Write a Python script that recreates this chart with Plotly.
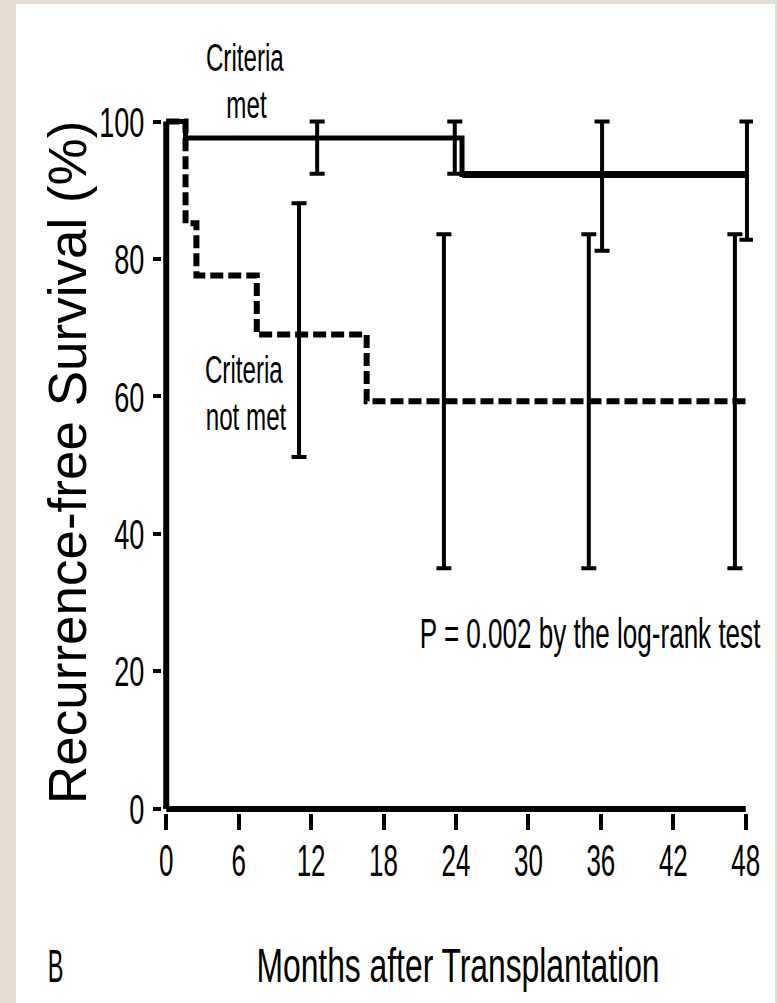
import plotly.graph_objects as go

# ---------------- data ----------------
met_x = [0, 1.6, 24.5, 48]
met_y = [100, 97.6, 92.3, 92.3]

notmet_x = [0, 1.6, 2.5, 7.5, 16.6, 48]
notmet_y = [100, 85.2, 77.6, 69.0, 59.3, 59.3]

met_err_x = [12.5, 23.9, 36.1, 48.1]
met_err_center = [97.6, 97.6, 92.3, 92.3]
met_err_upper = [100, 100, 100, 100]
met_err_lower = [92.4, 92.4, 81.2, 82.8]

notmet_err_x = [11.0, 23.0, 35.0, 47.1]
notmet_err_center = [69.0, 59.3, 59.3, 59.3]
notmet_err_upper = [88.1, 83.6, 83.6, 83.6]
notmet_err_lower = [51.2, 35.0, 35.0, 35.0]

x_ticks = [0, 6, 12, 18, 24, 30, 36, 42, 48]
y_ticks = [0, 20, 40, 60, 80, 100]

# ---------------- layout geometry ----------------
W, H = 777, 1003
ML, MR, MT, MB = 162, 24, 116, 190
PW, PH = W - ML - MR, H - MT - MB

def px(x):
    return (x - ML) / PW

def py(y):
    return (H - MB - y) / PH

FONT = "Liberation Sans, Arial, sans-serif"

fig = go.Figure()

fig.add_trace(go.Scatter(
    x=notmet_x, y=notmet_y, mode="lines", line_shape="hv",
    line=dict(color="black", width=6, dash="13px,5px"),
    showlegend=False, hoverinfo="skip"))

fig.add_trace(go.Scatter(
    x=met_x, y=met_y, mode="lines", line_shape="hv",
    line=dict(color="black", width=5),
    showlegend=False, hoverinfo="skip"))

# last plateau of the "criteria met" curve is printed heavier in the original
fig.add_trace(go.Scatter(
    x=met_x[2:], y=met_y[2:], mode="lines", line_shape="hv",
    line=dict(color="black", width=7),
    showlegend=False, hoverinfo="skip"))

fig.add_trace(go.Scatter(
    x=met_err_x, y=met_err_center, mode="markers",
    marker=dict(size=1, color="rgba(0,0,0,0)"),
    error_y=dict(type="data", symmetric=False,
                 array=[u - c for u, c in zip(met_err_upper, met_err_center)],
                 arrayminus=[c - l for l, c in zip(met_err_lower, met_err_center)],
                 color="black", thickness=4, width=7.5),
    cliponaxis=False, showlegend=False, hoverinfo="skip"))

fig.add_trace(go.Scatter(
    x=notmet_err_x, y=notmet_err_center, mode="markers",
    marker=dict(size=1, color="rgba(0,0,0,0)"),
    error_y=dict(type="data", symmetric=False,
                 array=[u - c for u, c in zip(notmet_err_upper, notmet_err_center)],
                 arrayminus=[c - l for l, c in zip(notmet_err_lower, notmet_err_center)],
                 color="black", thickness=4, width=7.5),
    cliponaxis=False, showlegend=False, hoverinfo="skip"))

shapes = [
    dict(type="rect", xref="paper", yref="paper", x0=px(16), x1=px(775), y0=py(1003), y1=py(4),
         fillcolor="white", line=dict(width=0), layer="below"),
    dict(type="line", xref="x", yref="y", x0=0, x1=0, y0=0, y1=100,
         line=dict(color="black", width=6)),
    dict(type="line", xref="x", yref="y", x0=0, x1=48, y0=0, y1=0,
         line=dict(color="black", width=6)),
]

def ann(text, cx, cy, size, angle=0):
    return dict(text=text, x=px(cx), y=py(cy), xref="paper", yref="paper",
                xanchor="center", yanchor="middle", showarrow=False, textangle=angle,
                font=dict(family=FONT, size=size, color="black"))

annotations = [
    ann("Criteria", 245, 57.5, 39),
    ann("met", 246, 104.5, 39),
    ann("Criteria", 244, 369.5, 39),
    ann("not met", 246, 416.5, 39),
    ann("P = 0.002 by the log-rank test", 589.5, 633, 43),
    ann("Recurrence-free Survival (%)", 68, 463, 53, -90),
    ann("Months after Transplantation", 458, 965.5, 47.5),
    ann("B", 55.5, 965, 47),
]

fig.update_layout(
    width=W, height=H, autosize=False,
    margin=dict(l=ML, r=MR, t=MT, b=MB, autoexpand=False),
    paper_bgcolor="#e3ddd2", plot_bgcolor="rgba(0,0,0,0)",
    shapes=shapes, annotations=annotations,
    xaxis=dict(range=[-0.35, 48.6], tickvals=x_ticks, ticktext=[str(v) for v in x_ticks],
               showgrid=False, zeroline=False, showline=False, automargin=False,
               ticks="outside", ticklen=16, tickwidth=4, tickcolor="black",
               tickfont=dict(family=FONT, size=44, color="black")),
    yaxis=dict(range=[-0.6, 100.8], tickvals=y_ticks, ticktext=[str(v) for v in y_ticks],
               showgrid=False, zeroline=False, showline=False, automargin=False,
               ticks="outside", ticklen=8, tickwidth=3.5, tickcolor="black",
               tickfont=dict(family=FONT, size=43, color="black")),
)
try:
    fig.update_xaxes(ticklabelstandoff=-7)
except Exception:
    pass

# horizontally condense text (the reference uses a narrow typeface):
# scale each text horizontally about its own anchor point
post = """
var gd = document.getElementById('{plot_id}');
var annF = {'Criteria':0.62,'met':0.62,'not met':0.62,
            'P = 0.002 by the log-rank test':0.606,
            'Months after Transplantation':0.67,'B':0.5};
function sq(t, f){
  var cur = t.getAttribute('transform') || '';
  if(t.getAttribute('data-sq-tr') === cur) return;
  var x = parseFloat(t.getAttribute('x')) || 0;
  var tr = cur + ' translate(' + x + ',0) scale(' + f + ',1) translate(' + (-x) + ',0)';
  t.setAttribute('transform', tr);
  t.setAttribute('data-sq-tr', tr);
}
function squeezeAll(){
  gd.querySelectorAll('.xtick text').forEach(function(t){ sq(t, 0.59); });
  gd.querySelectorAll('.ytick text').forEach(function(t){ sq(t, 0.63); });
  gd.querySelectorAll('text.annotation-text').forEach(function(t){
    var f = annF[t.textContent];
    if(f){ sq(t, f); }
  });
}
squeezeAll();
gd.on('plotly_afterplot', squeezeAll);
"""

fig.write_html("out.html", post_script=post)
